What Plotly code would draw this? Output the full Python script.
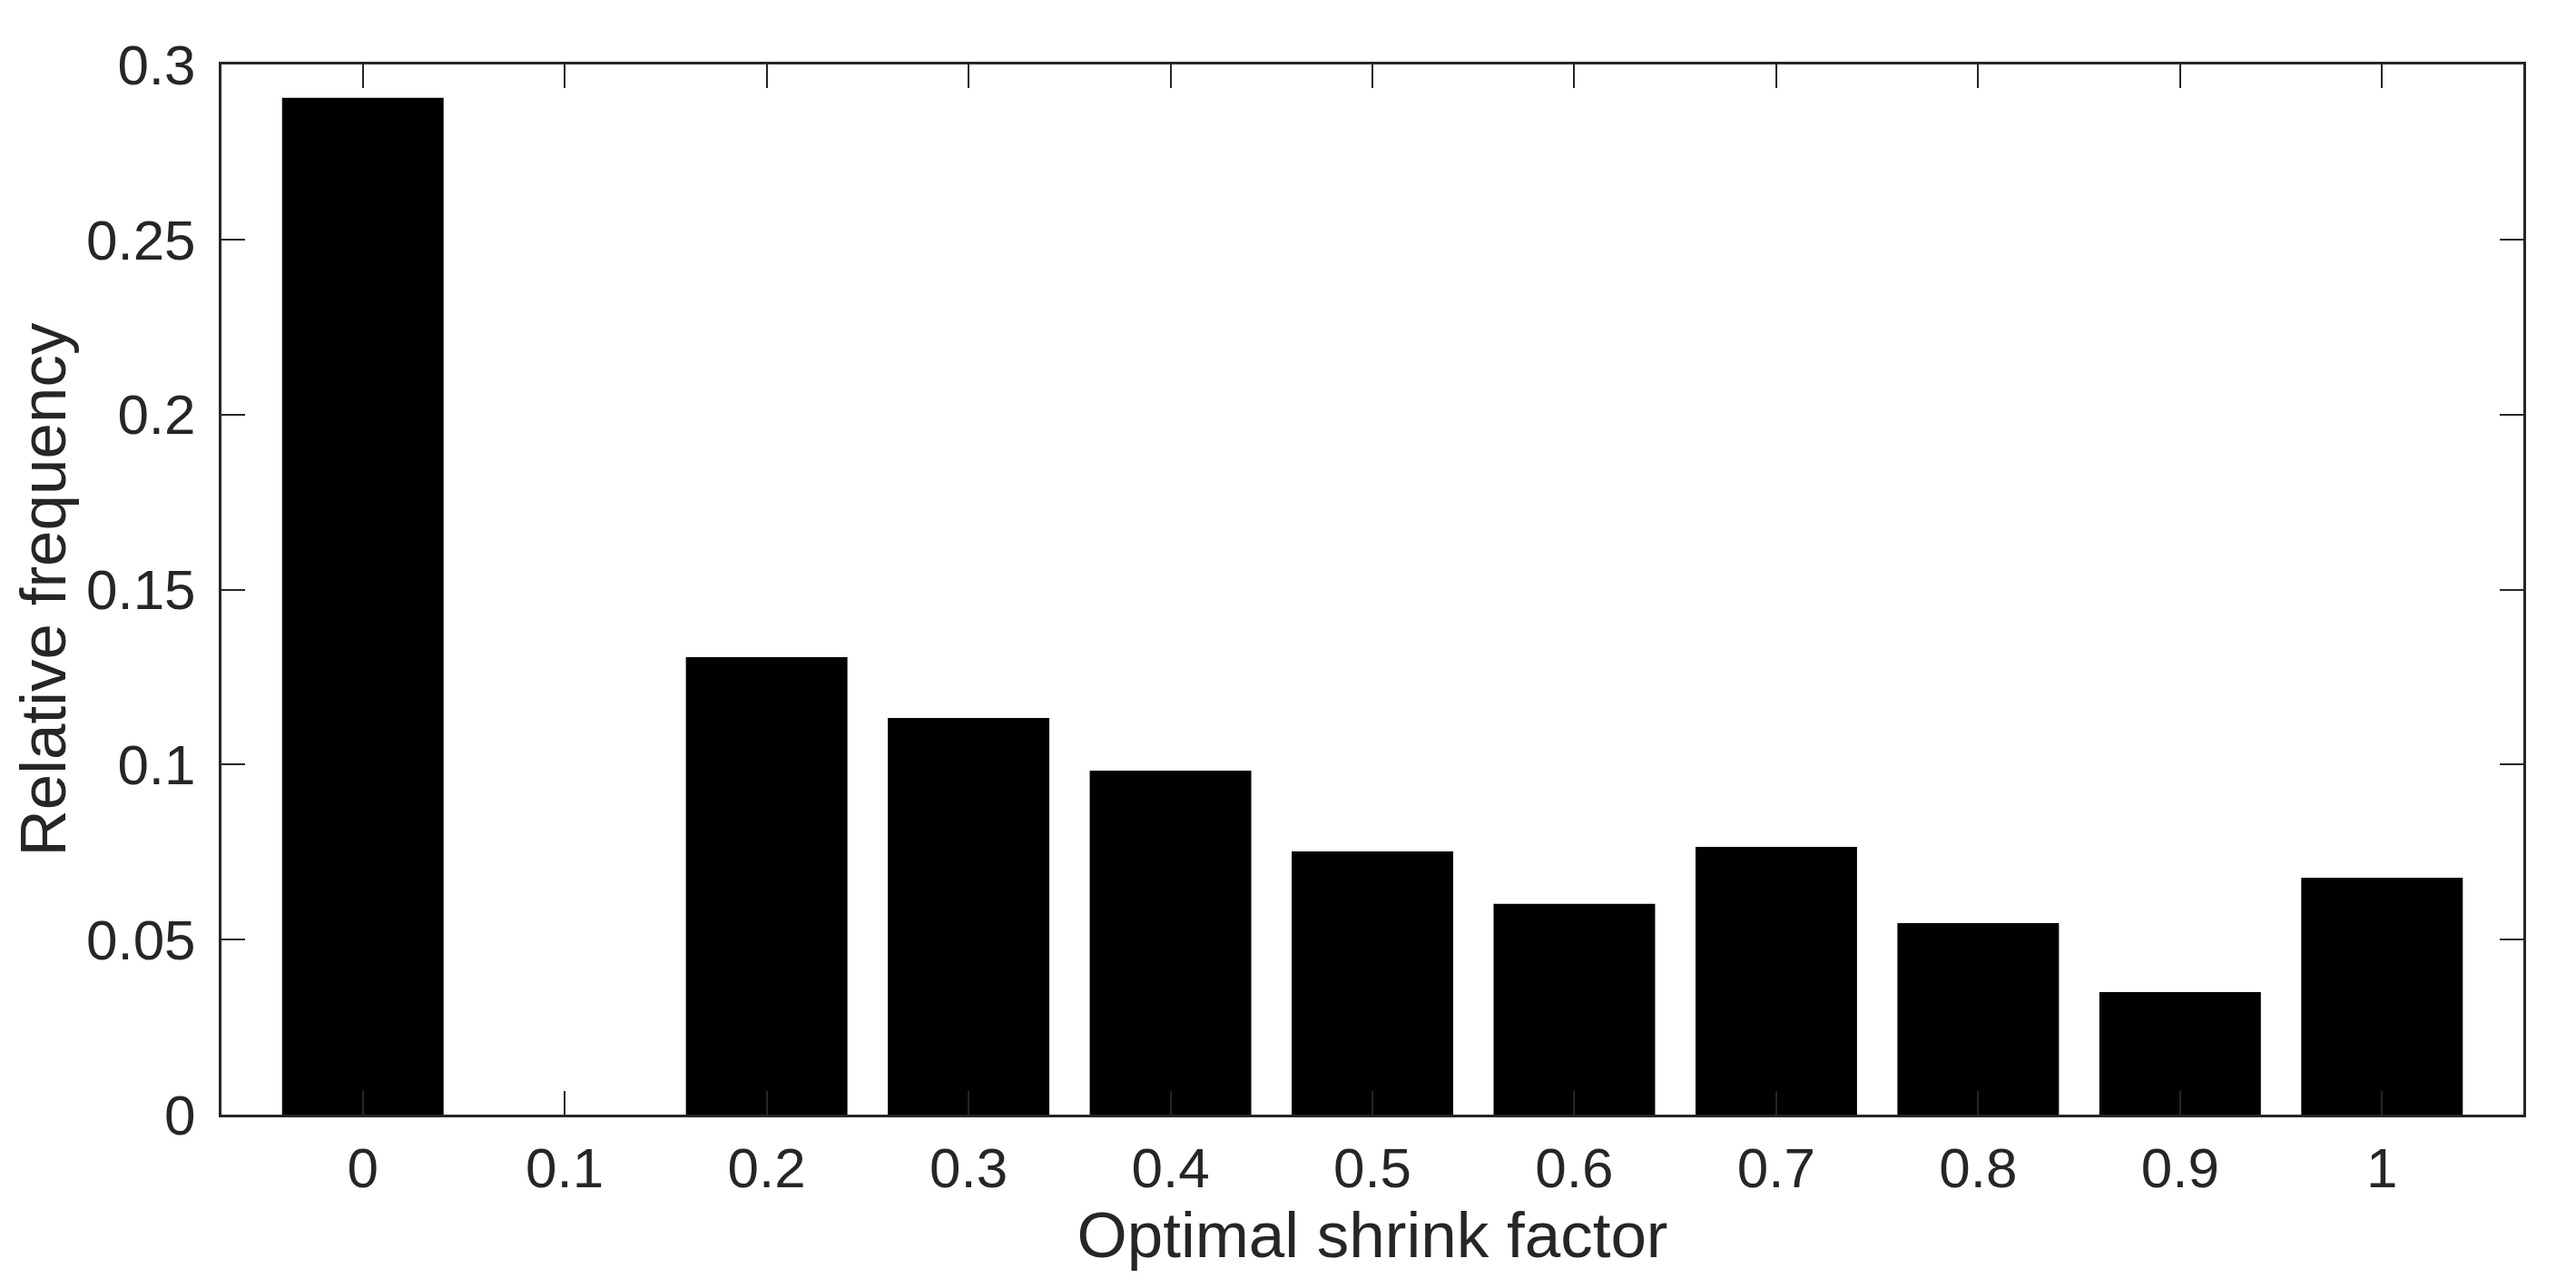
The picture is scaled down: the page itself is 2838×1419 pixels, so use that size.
import plotly.graph_objs as go

# shrink factor bins and their relative frequency
shrink_factor = [0, 0.1, 0.2, 0.3, 0.4, 0.5, 0.6, 0.7, 0.8, 0.9, 1]
rel_freq = [0.2905, 0.0, 0.1307, 0.1133, 0.0983, 0.0752, 0.0602, 0.0765, 0.0547, 0.0350, 0.0677]

y_ticks = [0, 0.05, 0.1, 0.15, 0.2, 0.25, 0.3]
y_ticktext = ['0', '0.05', '0.1', '0.15', '0.2', '0.25', '0.3']
x_ticktext = ['0', '0.1', '0.2', '0.3', '0.4', '0.5', '0.6', '0.7', '0.8', '0.9', '1']

axis_col = '#262626'
font_name = 'Liberation Sans, Arial, sans-serif'

fig = go.Figure()
fig.add_trace(go.Bar(x=shrink_factor, y=rel_freq, width=0.08,
                     marker=dict(color='black', line=dict(width=0)),
                     showlegend=False))

# page body has an 8px margin, so the figure is 8px smaller to fit the window
fig.update_layout(
    width=2830, height=1411,
    margin=dict(l=236, r=58, t=63, b=191, autoexpand=False),
    plot_bgcolor='white', paper_bgcolor='white',
    font=dict(family=font_name, size=62, color=axis_col),
)

fig.update_xaxes(
    range=[-0.07, 1.07],
    tickvals=shrink_factor, ticktext=x_ticktext,
    ticks='inside', ticklen=26, tickwidth=2, tickcolor=axis_col,
    showline=True, linewidth=3, linecolor=axis_col, mirror='ticks',
    showgrid=False, zeroline=False,
    ticklabelstandoff=3,
    title=dict(text='Optimal shrink factor', font=dict(size=71, color=axis_col), standoff=6),
    automargin=False,
)
fig.update_yaxes(
    range=[0, 0.3],
    tickvals=y_ticks, ticktext=y_ticktext,
    ticks='inside', ticklen=26, tickwidth=2, tickcolor=axis_col,
    showline=True, linewidth=3, linecolor=axis_col, mirror='ticks',
    showgrid=False, zeroline=False,
    ticklabelstandoff=13,
    title=dict(text='Relative frequency', font=dict(size=71, color=axis_col), standoff=22),
    automargin=False,
)

fig.write_html("out.html")
